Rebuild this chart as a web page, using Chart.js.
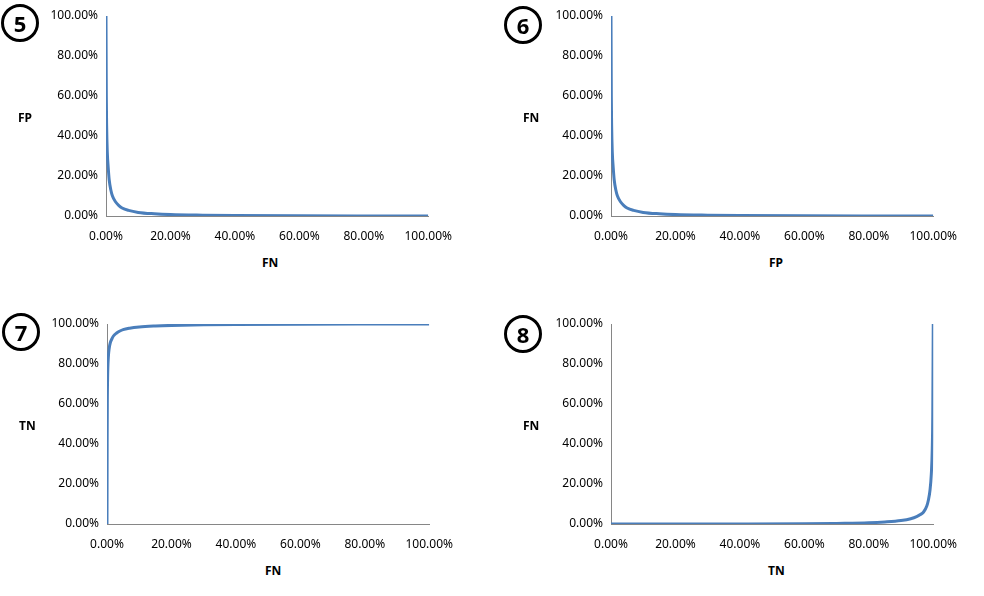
<!DOCTYPE html>
<html>
<head>
<meta charset="utf-8">
<script src="https://cdn.jsdelivr.net/npm/chart.js@4.4.1/dist/chart.umd.min.js"></script>
<style>
  body { margin: 0; background: #fff; width: 984px; height: 596px; position: relative; font-family: "Noto Sans", "DejaVu Sans", sans-serif; }
  .box { position: absolute; width: 460px; height: 246px; }
  .lbl { position: absolute; font-size: 12px; font-weight: bold; color: #000; }
  .num { position: absolute; width: 32px; height: 32px; border: 3px solid #000; border-radius: 50%;
         font-size: 22px; font-weight: bold; text-align: center; line-height: 32px; background: #fff; }
</style>
</head>
<body>
<div class="box" style="left:0;top:0"><canvas id="c5"></canvas></div>
<div class="box" style="left:505px;top:0"><canvas id="c6"></canvas></div>
<div class="box" style="left:1px;top:308px"><canvas id="c7"></canvas></div>
<div class="box" style="left:505px;top:308px"><canvas id="c8"></canvas></div>

<div class="num" style="left:1px;top:4px">5</div>
<div class="num" style="left:504px;top:6px">6</div>
<div class="num" style="left:2px;top:313px">7</div>
<div class="num" style="left:504px;top:315px">8</div>

<div class="lbl" style="left:18px;top:109px">FP</div>
<div class="lbl" style="left:262px;top:254px">FN</div>
<div class="lbl" style="left:523px;top:109px">FN</div>
<div class="lbl" style="left:769px;top:254px">FP</div>
<div class="lbl" style="left:19px;top:417px">TN</div>
<div class="lbl" style="left:265px;top:562px">FN</div>
<div class="lbl" style="left:523px;top:417px">FN</div>
<div class="lbl" style="left:768px;top:562px">TN</div>

<script>
// falling curve (charts 5 and 6): x = error rate, y = other error rate
const fallX = [0, 0.05, 0.1, 0.2, 0.4, 0.7, 1, 1.5, 2, 3, 4, 5, 7, 10, 15, 20, 30, 40, 60, 80, 100];
const fallY = [100, 80, 60, 45, 32, 24, 18, 13, 10, 7, 5.2, 4, 2.8, 1.8, 1.1, 0.7, 0.4, 0.25, 0.1, 0.05, 0];
// rising curve (chart 7): TN against FN
const riseX = [0, 0.05, 0.1, 0.2, 0.4, 0.7, 1, 1.5, 2, 3, 4, 5, 7, 10, 15, 20, 30, 40, 60, 80, 100];
const riseY = [0, 40, 60, 74, 83, 88, 90.5, 92.5, 94, 95.5, 96.5, 97.2, 97.9, 98.5, 99, 99.3, 99.6, 99.75, 99.9, 99.95, 100];
// chart 8: FN against TN
const tnX = [0, 20, 40, 60, 70, 80, 85, 90, 93, 95, 96, 97, 98, 98.5, 99, 99.4, 99.7, 99.85, 100];
const tnY = [0, 0, 0.05, 0.1, 0.3, 0.6, 1, 1.7, 2.6, 3.8, 4.7, 6, 9, 12, 17, 25, 38, 55, 100];

function pts(xs, ys) { return xs.map((x, i) => ({ x: x, y: ys[i] })); }

function makeChart(id, xs, ys) {
    const axis = {
        type: "linear", min: 0, max: 100,
        grid: { display: false, drawTicks: true, tickLength: 5, tickColor: "#868686" },
        border: { color: "#868686", width: 1 },
        ticks: { stepSize: 20, color: "#000", font: { size: 12, family: "Noto Sans" },
                 callback: v => v.toFixed(2) + "%" }
    };
    new Chart(document.getElementById(id), {
        type: "scatter",
        data: { datasets: [{ data: pts(xs, ys), showLine: true, borderColor: "#4a7ebb",
                              borderWidth: 3, pointRadius: 0, tension: 0.4, cubicInterpolationMode: "monotone" }] },
        options: {
            responsive: true, maintainAspectRatio: false, animation: false,
            layout: { padding: { top: 16, right: 13, left: 0, bottom: 0 } },
            plugins: { legend: { display: false }, tooltip: { enabled: false } },
            scales: {
                x: Object.assign({}, axis, { ticks: Object.assign({}, axis.ticks, { padding: 8 }),
                                              afterFit: s => { s.height = 30; } }),
                y: Object.assign({}, axis, { afterFit: s => { s.width = 106; } })
            }
        }
    });
}

makeChart("c5", fallX, fallY);
makeChart("c6", fallX, fallY);
makeChart("c7", riseX, riseY);
makeChart("c8", tnX, tnY);
</script>
</body>
</html>
